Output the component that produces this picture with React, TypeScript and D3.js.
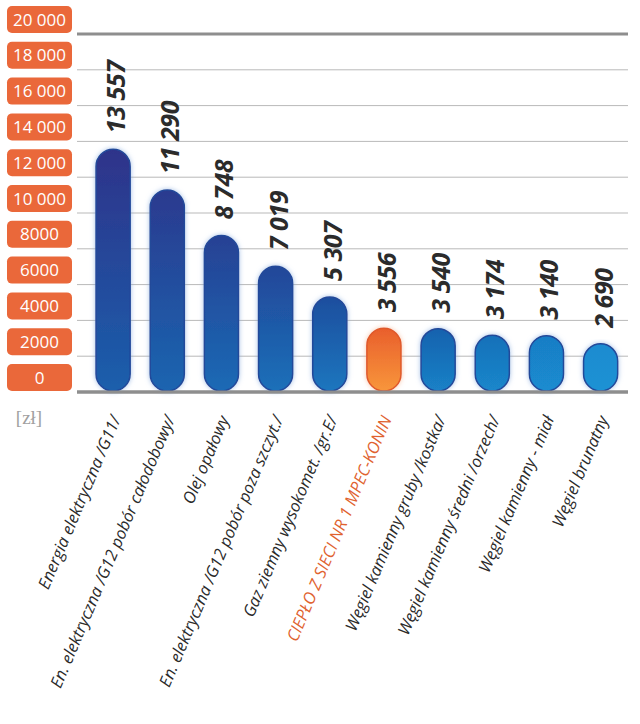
import React from "react";
import * as d3 from "d3";

const categories = [
  "Energia elektryczna /G11/",
  "En. elektryczna /G12 pobór całodobowy/",
  "Olej opałowy",
  "En. elektryczna /G12 pobór poza szczyt./",
  "Gaz ziemny wysokomet. /gr.E/",
  "CIEPŁO Z SIECI NR 1 MPEC-KONIN",
  "Węgiel kamienny gruby /kostka/",
  "Węgiel kamienny średni /orzech/",
  "Węgiel kamienny - miał",
  "Węgiel brunatny",
];
const values = [13557, 11290, 8748, 7019, 5307, 3556, 3540, 3174, 3140, 2690];
const valueLabels = ["13 557", "11 290", "8 748", "7 019", "5 307", "3 556", "3 540", "3 174", "3 140", "2 690"];
const highlight = "CIEPŁO Z SIECI NR 1 MPEC-KONIN";
const yTicks = [0, 2000, 4000, 6000, 8000, 10000, 12000, 14000, 16000, 18000, 20000];
const yTickLabels = ["0", "2000", "4000", "6000", "8000", "10 000", "12 000", "14 000", "16 000", "18 000", "20 000"];

const width = 640;
const height = 724;
const gridLeft = 77;
const gridRight = 628;
const font = "'Open Sans', sans-serif";

const y = d3.scaleLinear().domain([0, 20000]).range([392, 34]);
const x = d3
  .scaleBand<string>()
  .domain(categories)
  .range([86, 627.7])
  .paddingInner(0.37)
  .paddingOuter(0.185);

const topColor = d3
  .scaleLinear<string>()
  .domain([0, 4, 6, 9])
  .range(["#2f338a", "#1f4e9e", "#1662ae", "#1a8bd0"]);
const bottomColor = d3.scaleLinear<string>().domain([0, 9]).range(["#1a5fac", "#1a92d4"]);

export default function App() {
  const bw = x.bandwidth();
  return (
    <svg
      width={width}
      height={height}
      viewBox={`0 0 ${width} ${height}`}
      style={{ position: "absolute", left: 0, top: 0, background: "#fff" }}
    >
      <defs>
        <filter id="glow" x="-30%" y="-10%" width="160%" height="120%">
          <feGaussianBlur in="SourceAlpha" stdDeviation="2.5" result="b" />
          <feFlood floodColor="#7fa6dc" floodOpacity="0.7" />
          <feComposite in2="b" operator="in" result="s" />
          <feMerge>
            <feMergeNode in="s" />
            <feMergeNode in="SourceGraphic" />
          </feMerge>
        </filter>
        <filter id="glowO" x="-30%" y="-10%" width="160%" height="120%">
          <feGaussianBlur in="SourceAlpha" stdDeviation="2.5" result="b" />
          <feFlood floodColor="#f5b08a" floodOpacity="0.7" />
          <feComposite in2="b" operator="in" result="s" />
          <feMerge>
            <feMergeNode in="s" />
            <feMergeNode in="SourceGraphic" />
          </feMerge>
        </filter>
        {categories.map((c, i) => (
          <linearGradient key={c} id={`g${i}`} x1="0" y1="0" x2="0" y2="1">
            {c === highlight ? (
              <>
                <stop offset="0" stopColor="#e95f2c" />
                <stop offset="1" stopColor="#f8963b" />
              </>
            ) : (
              <>
                <stop offset="0" stopColor={topColor(i)} />
                <stop offset="1" stopColor={bottomColor(i)} />
              </>
            )}
          </linearGradient>
        ))}
      </defs>

      {/* grid */}
      {yTicks.map((t) => (
        <line
          key={t}
          x1={gridLeft}
          x2={gridRight}
          y1={y(t)}
          y2={y(t)}
          stroke={t === 0 || t === 20000 ? "#8e8e8e" : "#b9b9b9"}
          strokeWidth={t === 0 || t === 20000 ? 3 : 1}
        />
      ))}

      {/* y labels in orange boxes */}
      {yTicks.map((t, i) => (
        <g key={t} transform={`translate(7,${y(t) - 14.5})`}>
          <rect x={0} y={-13.5} width={65} height={27} rx={5} fill="#ea683a" />
          <text
            x={32.5}
            y={6}
            textAnchor="middle"
            fontFamily={font}
            fontSize={17}
            fill="#fff"
          >
            {yTickLabels[i]}
          </text>
        </g>
      ))}

      <text x={29} y={424} textAnchor="middle" fontFamily="'Liberation Serif', 'DejaVu Serif', serif" fontSize={19} fill="#a0a0a0">
        [zł]
      </text>

      {/* bars */}
      {categories.map((c, i) => {
        const x0 = x(c)!;
        const top = y(values[i]);
        const hl = c === highlight;
        return (
          <rect
            key={c}
            x={x0}
            y={top}
            width={bw}
            height={y(0) - 1 - top}
            rx={bw / 2}
            ry={Math.min(bw / 2, (y(0) - 1 - top) / 2)}
            fill={`url(#g${i})`}
            stroke={hl ? "#e0582a" : "#22489a"}
            strokeWidth={1.5}
            filter={hl ? "url(#glowO)" : "url(#glow)"}
          />
        );
      })}
      <line x1={gridLeft} x2={gridRight} y1={y(0)} y2={y(0)} stroke="#8e8e8e" strokeWidth={3} />

      {/* value labels */}
      {categories.map((c, i) => {
        const cx = x(c)! + bw / 2 + 12;
        const cy = y(values[i]) - 16;
        return (
          <text
            key={c}
            transform={`translate(${cx},${cy}) rotate(-90)`}
            fontFamily={font}
            fontSize={25}
            fontWeight={700}
            fontStyle="italic"
            letterSpacing={-0.4}
            fill="#2b2b2b"
          >
            {valueLabels[i]}
          </text>
        );
      })}

      {/* category labels */}
      {categories.map((c) => {
        const cx = x(c)! + bw / 2 + 8;
        return (
          <text
            key={c}
            transform={`translate(${cx},419) rotate(-67)`}
            textAnchor="end"
            fontFamily={font}
            fontSize={16.5}
            fontStyle="italic"
            fill={c === highlight ? "#e0622f" : "#2a2a2a"}
          >
            {c}
          </text>
        );
      })}
    </svg>
  );
}
